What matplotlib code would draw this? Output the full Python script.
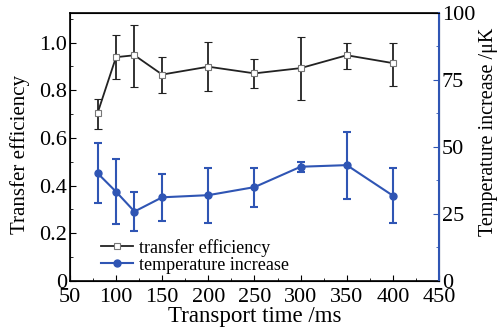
import numpy as np
import matplotlib
matplotlib.use("Agg")
import matplotlib.pyplot as plt
from matplotlib.ticker import MultipleLocator
from matplotlib.lines import Line2D

# data
time_ms = [80, 100, 120, 150, 200, 250, 300, 350, 400]
eff = [0.704, 0.939, 0.947, 0.866, 0.899, 0.871, 0.893, 0.947, 0.914]
eff_hi = [0.765, 1.031, 1.076, 0.941, 1.002, 0.930, 1.025, 1.000, 1.000]
eff_lo = [0.639, 0.846, 0.815, 0.790, 0.799, 0.809, 0.760, 0.891, 0.818]
temp = [40.2, 33.3, 25.9, 31.2, 32.0, 35.0, 42.6, 43.2, 31.8]
temp_hi = [51.6, 45.4, 33.3, 39.9, 42.2, 42.2, 44.5, 55.7, 42.0]
temp_lo = [29.0, 21.2, 18.8, 22.5, 21.5, 27.5, 40.7, 30.5, 21.8]

blue = "#2f55b4"
plt.rcParams['font.family'] = ['Liberation Serif', 'DejaVu Serif']

fig = plt.figure(figsize=(4.99, 3.29), dpi=100)
ax = fig.add_axes([0.140, 0.146, 0.740, 0.815])
ax2 = ax.twinx()

eff = np.array(eff)
eff_err = [eff - np.array(eff_lo), np.array(eff_hi) - eff]
temp = np.array(temp)
temp_err = [temp - np.array(temp_lo), np.array(temp_hi) - temp]

ax.errorbar(time_ms, eff, yerr=eff_err, color="#222222", lw=1.3, capsize=3,
            elinewidth=1.3, capthick=1.3, marker="s", ms=5, mfc="white",
            mec="#777777", mew=0.8, zorder=3)
ax2.errorbar(time_ms, temp, yerr=temp_err, color=blue, lw=1.5, capsize=3,
             elinewidth=1.5, capthick=1.5, marker="o", ms=5, mfc=blue,
             mec=blue, zorder=3)

ax.set_xlim(50, 450)
ax.set_ylim(0, 1.125)
ax2.set_ylim(0, 100)

ax.xaxis.set_major_locator(MultipleLocator(50))
ax.xaxis.set_minor_locator(MultipleLocator(25))
ax.set_yticks([0, 0.2, 0.4, 0.6, 0.8, 1.0])
ax.set_yticklabels(["0", "0.2", "0.4", "0.6", "0.8", "1.0"])
ax.yaxis.set_minor_locator(MultipleLocator(0.1))
ax2.set_yticks([0, 25, 50, 75, 100])
ax2.yaxis.set_minor_locator(MultipleLocator(12.5))

ax.tick_params(which="both", direction="in", labelsize=16, top=False, pad=2)
ax.tick_params(axis="x", which="both", pad=5)
ax.tick_params(which="major", length=4)
ax.tick_params(which="minor", length=2.5)
ax2.tick_params(which="both", direction="in", labelsize=16, color=blue, pad=2)
ax2.tick_params(which="major", length=4)
ax2.tick_params(which="minor", length=2.5)

ax2.spines["right"].set_color(blue)
ax2.spines["right"].set_linewidth(1.5)
for s in ["left", "bottom", "top"]:
    ax.spines[s].set_linewidth(1.2)

ax.set_xlabel("Transport time /ms", fontsize=16.5, labelpad=-1)
ax.set_ylabel("Transfer efficiency", fontsize=15)
ax.yaxis.set_label_coords(-0.108, 0.47)
ax2.set_ylabel("Temperature increase /μK", fontsize=14.5)
ax2.yaxis.set_label_coords(1.108, 0.555)

handles = [
    Line2D([], [], color="#222222", lw=1.3, marker="s", ms=5, mfc="white",
           mec="#777777", mew=0.8),
    Line2D([], [], color=blue, lw=1.5, marker="o", ms=5, mfc=blue, mec=blue),
]
labels = ["transfer efficiency", "temperature increase"]
ax.legend(handles, labels, loc="lower left", bbox_to_anchor=(0.05, -0.02),
          frameon=False, fontsize=13, handlelength=1.8, handletextpad=0.3,
          labelspacing=0.0, borderaxespad=0.3)

fig.savefig("out.png", dpi=100)
